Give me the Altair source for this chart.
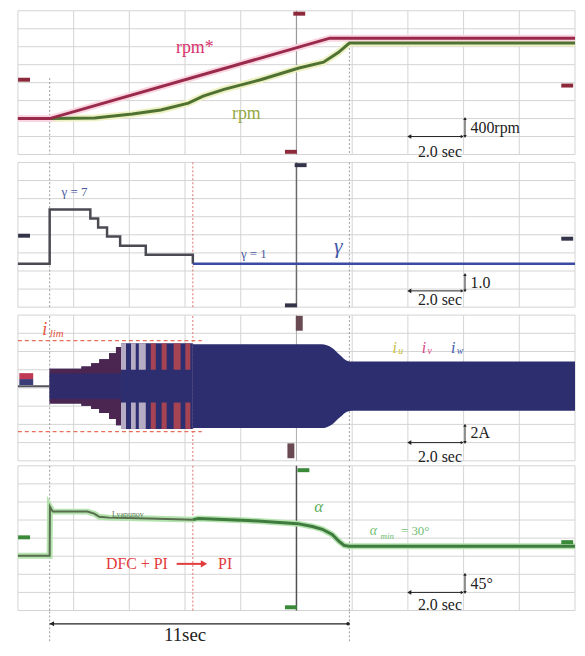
import altair as alt
import pandas as pd

# ---------------- key instants (s) ----------------
t_start = 1.14     # DFC start
t_switch = 6.28    # DFC + PI -> PI
t_trig = 10.0      # scope trigger
t_reach = 11.9     # speed reached

# ---------------- panel 1 : speed (rpm) ----------------
rpm_ref_t = [0.0, 1.14, 11.2, 20.0]
rpm_ref_v = [0, 0, 1790, 1790]
rpm_t = [0.0, 1.14, 2.76, 4.11, 5.13, 6.12, 6.65, 7.40, 8.71, 10.09, 10.97, 11.50, 11.90, 20.0]
rpm_v = [0, 0, 15, 100, 190, 345, 500, 650, 865, 1125, 1255, 1470, 1680, 1680]

# ---------------- panel 2 : gamma ----------------
gamma_dfc_t = [0.0, 1.14, 2.60, 2.88, 3.20, 3.67, 4.59, 6.28]
gamma_dfc_v = [1, 7, 6, 5, 4, 3, 2, 1]
gamma_pi_t = [6.28, 20.0]
gamma_pi_v = [1, 1]

# ---------------- panel 3 : phase currents (A) ----------------
i_lim = 5.0
cur_idle_t = [0.0, 1.14]
cur_idle_v = [0.0, 0.0]
env_dfc_t = [1.14, 2.28, 2.63, 2.92, 3.27, 3.52, 3.70, 6.28]
env_dfc_a = [1.9, 2.15, 2.5, 2.95, 3.6, 4.3, 4.7, 4.7]
env_pi_t = [6.28, 10.9, 11.28, 11.57, 11.81, 12.0, 20.0]
env_pi_a = [4.6, 4.6, 4.2, 3.4, 2.8, 2.7, 2.7]
core_a = 1.4
light_t1 = [3.70, 4.06, 4.34]
light_t2 = [3.88, 4.23, 4.59]
red_t1 = [4.77, 5.16, 5.59, 6.01]
red_t2 = [4.95, 5.34, 5.84, 6.19]
stripe_inner = 1.8
stripe_outer = 4.7

# ---------------- panel 4 : alpha (deg) ----------------
alpha_dfc_t = [0.0, 1.14, 1.15, 1.25, 2.49, 2.74, 2.92, 3.27, 4.70, 6.28]
alpha_dfc_v = [6, 6, 128, 116, 116, 111, 103, 101, 99, 96]
alpha_pi_t = [6.28, 6.48, 8.26, 10.04, 10.57, 10.93, 11.28, 11.53, 11.71, 11.89, 20.0]
alpha_pi_v = [96, 99, 94, 86, 79, 72, 59, 42, 32, 30, 30]

# ---------------- channel markers ----------------
p1_mark_t = [0.22, 19.72, 10.1, 9.8]
p1_mark_v = [865, 735, 2335, -740]
p2_mark_t = [0.22, 19.72, 10.15, 9.8]
p2_mark_v = [4.1, 3.77, 11.9, -3.6]
p3_mark_red_t, p3_mark_red_v = [0.3], [1.1]
p3_mark_navy_t, p3_mark_navy_v = [0.3], [0.45]
p3_tall_t = [10.1, 9.8]
p3_tall_v = [6.9, -7.1]
p4_mark_t = [0.22, 19.72, 10.25, 9.8]
p4_mark_v = [52, 40, 219, -122]

# ---------------- layout / helpers ----------------
W, H = 562, 636
XS = alt.Scale(domain=[0, 20], nice=False, zero=False)
YS = alt.Scale(domain=[H, 0], nice=False, zero=False)   # page rows, 0 = top
XGRID = list(range(0, 21, 2))
GRID_C = "#d3d3d3"
SERIF = "Liberation Serif"
INK = "#222222"


class Panel:
    """A scope strip: its own value range drawn into a band of rows."""

    def __init__(self, top, h, dmin, dmax):
        self.top, self.h, self.dmin, self.dmax = top, h, dmin, dmax

    def expr(self, field):
        k = self.h / (self.dmax - self.dmin)
        return f"{self.top} + ({self.dmax} - datum['{field}']) * {k}"


def X(field="t"):
    return alt.X(f"{field}:Q", scale=XS, axis=None)


def chart(df, P, yfields):
    c = alt.Chart(df)
    calc = {f"y_{f}": P.expr(f) for f in yfields}
    return c.transform_calculate(**calc)


def Yc(field):
    return alt.Y(f"y_{field}:Q", scale=YS, axis=None)


def line(ts, vs, P, **kw):
    df = pd.DataFrame({"t": ts, "v": vs})
    return chart(df, P, ["v"]).mark_line(**kw).encode(x=X(), y=Yc("v"))


def band(ts, amps, P, **kw):
    df = pd.DataFrame({"t": ts, "hi": amps, "lo": [-a for a in amps]})
    return chart(df, P, ["hi", "lo"]).mark_area(**kw).encode(
        x=X(), y=Yc("hi"), y2="y_lo:Q")


def rects(t1, t2, lo, hi, P, **kw):
    df = pd.DataFrame({"t": t1, "t2": t2, "lo": [lo] * len(t1), "hi": [hi] * len(t1)})
    return chart(df, P, ["lo", "hi"]).mark_rect(**kw).encode(
        x=X(), x2="t2:Q", y=Yc("lo"), y2="y_hi:Q")


def vline(t, v1, v2, P, **kw):
    df = pd.DataFrame({"t": [t], "v": [v1], "v2": [v2]})
    return chart(df, P, ["v", "v2"]).mark_rule(**kw).encode(
        x=X(), y=Yc("v"), y2="y_v2:Q")


def hline(t1, t2, v, P, **kw):
    df = pd.DataFrame({"t": [t1], "t2": [t2], "v": [v]})
    return chart(df, P, ["v"]).mark_rule(**kw).encode(x=X(), x2="t2:Q", y=Yc("v"))


def pts(ts, vs, P, **kw):
    df = pd.DataFrame({"t": ts, "v": vs})
    base = dict(filled=True, opacity=1)
    base.update(kw)
    return chart(df, P, ["v"]).mark_point(**base).encode(x=X(), y=Yc("v"))


def ticks(ts, vs, P, **kw):
    df = pd.DataFrame({"t": ts, "v": vs})
    base = dict(opacity=1)
    base.update(kw)
    return chart(df, P, ["v"]).mark_tick(**base).encode(x=X(), y=Yc("v"))


def label(t, v, s, P, **kw):
    df = pd.DataFrame({"t": [t], "v": [v], "s": [s]})
    base = dict(font=SERIF, baseline="middle", align="center", color=INK)
    base.update(kw)
    return chart(df, P, ["v"]).mark_text(**base).encode(x=X(), y=Yc("v"), text="s:N")


def grid(P, yvals):
    xs_df = pd.DataFrame({"t": XGRID, "v": [P.dmin] * len(XGRID), "v2": [P.dmax] * len(XGRID)})
    ys_df = pd.DataFrame({"t": [0.0] * len(yvals), "t2": [20.0] * len(yvals), "v": yvals})
    vx = chart(xs_df, P, ["v", "v2"]).mark_rule(color=GRID_C, strokeWidth=1).encode(
        x=X(), y=Yc("v"), y2="y_v2:Q")
    hy = chart(ys_df, P, ["v"]).mark_rule(color=GRID_C, strokeWidth=1).encode(
        x=X(), x2="t2:Q", y=Yc("v"))
    return [vx, hy]


def scalebar(P, v_h, v_top, unit, v_unit, v_sec):
    return [
        hline(14.05, 15.95, v_h, P, color=INK, strokeWidth=1),
        pts([14.05], [v_h], P, shape="triangle-left", size=22, color=INK),
        pts([15.95], [v_h], P, shape="triangle-right", size=12, color=INK),
        vline(16.05, v_top, v_h, P, color=INK, strokeWidth=1),
        pts([16.05], [v_top], P, shape="triangle-up", size=12, color=INK),
        pts([16.05], [v_h], P, shape="triangle-down", size=12, color=INK),
        label(16.25, v_unit, unit, P, align="left", fontSize=16),
        label(15.15, v_sec, "2.0 sec", P, fontSize=16),
    ]


def dotted(t, v1, v2, P, color="#9c9c9c"):
    return vline(t, v1, v2, P, color=color, strokeWidth=1, strokeDash=[2, 2])


def hmark(ts, vs, P, color, size=12, thick=4):
    return ticks(ts, vs, P, orient="horizontal", size=size, thickness=thick, color=color)


# ---------------- panel 1 ----------------
P1 = Panel(0, 145, -800, 2400)
g1 = [-800 + 400 * k for k in range(9)]
L1 = [
    *grid(P1, g1),
    vline(t_trig, P1.dmin, P1.dmax, P1, color="#9a9a9a", strokeWidth=1.2),
    dotted(t_start, 900, P1.dmin, P1),
    dotted(t_reach, 1750, P1.dmin, P1),
    line(rpm_t, rpm_v, P1, color="#edf1c4", strokeWidth=7),
    line(rpm_ref_t, rpm_ref_v, P1, color="#f9d6e0", strokeWidth=7),
    line(rpm_t, rpm_v, P1, color="#4f7232", strokeWidth=3),
    line(rpm_ref_t, rpm_ref_v, P1, color="#9a2a4c", strokeWidth=3),
    hmark(p1_mark_t, p1_mark_v, P1, "#8c2a3c"),
    label(6.35, 1560, "rpm*", P1, fontSize=18, color="#d8336d"),
    label(8.2, 110, "rpm", P1, fontSize=18, color="#93a845"),
    *scalebar(P1, -400, 0, "400rpm", -220, -740),
]

# ---------------- panel 2 ----------------
P2 = Panel(153, 146, -3.8, 12.2)
g2 = [round(-3.8 + 2 * k, 2) for k in range(9)]
L2 = [
    *grid(P2, g2),
    vline(t_trig, P2.dmin, P2.dmax, P2, color="#6a6a6a", strokeWidth=1.5),
    dotted(t_start, P2.dmin, P2.dmax, P2),
    dotted(t_reach, P2.dmin, P2.dmax, P2),
    dotted(t_switch, P2.dmin, P2.dmax, P2, color="#e07070"),
    line(gamma_dfc_t, gamma_dfc_v, P2, color="#4a4a52", strokeWidth=2.5,
         interpolate="step-after"),
    line(gamma_pi_t, gamma_pi_v, P2, color="#3b4aa3", strokeWidth=2.5),
    hmark(p2_mark_t, p2_mark_v, P2, "#33334a"),
    label(2.03, 8.9, "γ = 7", P2, fontSize=13, color="#4b5aa0"),
    label(8.47, 2.1, "γ = 1", P2, fontSize=13, color="#4b5aa0"),
    label(11.5, 2.9, "γ", P2, fontSize=22, fontStyle="italic", color="#4458a8"),
    *scalebar(P2, -2.0, -0.2, "1.0", -1.1, -3.05),
]

# ---------------- panel 3 ----------------
P3 = Panel(307, 147, -8.2, 7.8)
g3 = [round(-8.2 + 2 * k, 2) for k in range(9)]
NAVY = "#2c2e70"
L3 = [
    *grid(P3, g3),
    vline(t_trig, P3.dmin, P3.dmax, P3, color="#b0b0b0", strokeWidth=1),
    dotted(t_start, P3.dmin, P3.dmax, P3),
    dotted(t_reach, P3.dmin, P3.dmax, P3),
    dotted(t_switch, P3.dmin, P3.dmax, P3, color="#e07070"),
    line(cur_idle_t, cur_idle_v, P3, color="#555560", strokeWidth=2),
    band(env_dfc_t, env_dfc_a, P3, color=NAVY, interpolate="step-after"),
    band(env_dfc_t[:7], env_dfc_a[:7], P3, color="#4a2650", interpolate="step-after"),
    band([t_start, 3.70], [core_a, core_a], P3, color=NAVY, opacity=0.85),
    rects(light_t1, light_t2, stripe_inner, stripe_outer, P3, color="#d9ccd8", opacity=0.8),
    rects(light_t1, light_t2, -stripe_outer, -stripe_inner, P3, color="#d9ccd8", opacity=0.8),
    rects(red_t1, red_t2, stripe_inner, stripe_outer, P3, color="#c64a4c", opacity=0.8),
    rects(red_t1, red_t2, -stripe_outer, -stripe_inner, P3, color="#c64a4c", opacity=0.8),
    band(env_pi_t, env_pi_a, P3, color=NAVY, interpolate="monotone"),
    hline(0.0, 6.6, i_lim, P3, color="#e8705a", strokeWidth=1.4, strokeDash=[4, 3]),
    hline(0.0, 6.6, -i_lim, P3, color="#e8705a", strokeWidth=1.4, strokeDash=[4, 3]),
    hmark(p3_mark_navy_t, p3_mark_navy_v, P3, "#3a3c78", size=14, thick=6),
    hmark(p3_mark_red_t, p3_mark_red_v, P3, "#c03a55", size=14, thick=6),
    ticks(p3_tall_t, p3_tall_v, P3, orient="vertical", size=15, thickness=7, color="#6a4a52"),
    label(0.96, 6.2, "i", P3, fontSize=18, fontStyle="italic", color="#e5533d"),
    label(1.14, 5.75, "lim", P3, align="left", fontSize=11, fontStyle="italic", color="#e5533d"),
    label(13.45, 4.2, "i", P3, align="left", fontSize=16, fontStyle="italic", color="#c9c040"),
    label(13.65, 3.8, "u", P3, align="left", fontSize=10, fontStyle="italic", color="#c9c040"),
    label(14.5, 4.2, "i", P3, align="left", fontSize=16, fontStyle="italic", color="#d84a8a"),
    label(14.7, 3.8, "v", P3, align="left", fontSize=10, fontStyle="italic", color="#d84a8a"),
    label(15.55, 4.2, "i", P3, align="left", fontSize=16, fontStyle="italic", color="#3d5db0"),
    label(15.75, 3.8, "w", P3, align="left", fontSize=10, fontStyle="italic", color="#3d5db0"),
    *scalebar(P3, -6.2, -4.3, "2A", -5.2, -7.8),
]

# ---------------- panel 4 ----------------
P4 = Panel(459, 146, -130, 230)
g4 = [-130 + 45 * k for k in range(9)]
RED = "#e23b3b"
L4 = [
    *grid(P4, g4),
    vline(t_trig, P4.dmin, P4.dmax, P4, color="#505050", strokeWidth=1.5),
    dotted(t_start, P4.dmin, P4.dmax, P4),
    dotted(t_reach, P4.dmin, P4.dmax, P4),
    dotted(t_switch, P4.dmin, P4.dmax, P4, color="#e07070"),
    line(alpha_dfc_t + alpha_pi_t[1:], alpha_dfc_v + alpha_pi_v[1:], P4,
         color="#b4e3ae", strokeWidth=6),
    line(alpha_dfc_t, alpha_dfc_v, P4, color="#586c4e", strokeWidth=2),
    line(alpha_pi_t, alpha_pi_v, P4, color="#3f7a3f", strokeWidth=3),
    hmark(p4_mark_t, p4_mark_v, P4, "#3a8a3a"),
    label(3.95, 108, "Lyapunov", P4, fontSize=8, color="#5a7a5a"),
    label(10.8, 128, "α", P4, fontSize=17, fontStyle="italic", color="#5fae5f"),
    label(12.63, 67, "α", P4, align="left", fontSize=14, fontStyle="italic", color="#72c072"),
    label(13.02, 56, "min", P4, align="left", fontSize=9, fontStyle="italic", color="#72c072"),
    label(13.75, 67, "= 30°", P4, align="left", fontSize=13, color="#72c072"),
    label(4.27, -14, "DFC + PI", P4, fontSize=16, color=RED),
    hline(5.7, 6.6, -14, P4, color=RED, strokeWidth=2),
    pts([6.68], [-14], P4, shape="triangle-right", size=55, color=RED),
    label(7.44, -14, "PI", P4, fontSize=16, color=RED),
    *scalebar(P4, -85, -40, "45°", -63, -117),
]

# ---------------- 11 sec annotation ----------------
P5 = Panel(604, 32, 0, 1)
L5 = [
    dotted(t_start, 0, 1, P5),
    dotted(t_reach, 0, 1, P5),
    hline(t_start, t_reach, 0.55, P5, color=INK, strokeWidth=1.2),
    pts([t_start + 0.08], [0.55], P5, shape="triangle-left", size=26, color=INK),
    pts([t_reach - 0.05], [0.55], P5, shape="circle", size=12, color=INK),
    label(6.0, 0.19, "11sec", P5, fontSize=19),
]

chart_all = alt.layer(*L1, *L2, *L3, *L4, *L5).properties(
    width=W,
    height=H,
    padding={"left": 10, "top": 0, "right": 2, "bottom": 0},
    autosize=alt.AutoSizeParams(type="none"),
    background="white",
).configure_view(stroke="transparent")

chart_all.save("out.html", embed_options={"renderer": "svg", "actions": False})
